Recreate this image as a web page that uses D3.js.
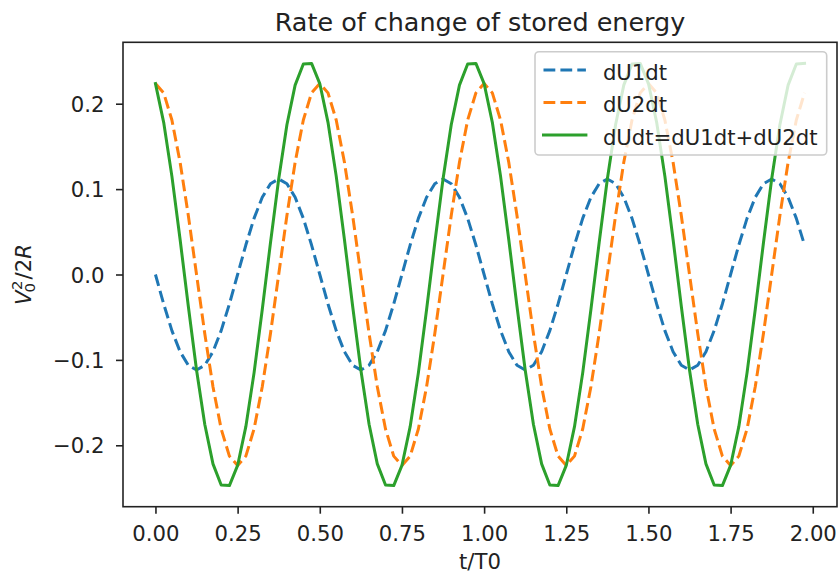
<!DOCTYPE html>
<html>
<head>
<meta charset="utf-8">
<script src="https://cdn.jsdelivr.net/npm/d3@7"></script>
<style>
  html, body { margin: 0; padding: 0; background: #fff; }
  svg { display: block; }
  text { font-family: "DejaVu Sans", sans-serif; fill: #222; }
</style>
</head>
<body>
<svg id="chart" width="838" height="579"></svg>
<script>
// Sample times (t/T0)
const time = [
  0.000, 0.025, 0.050, 0.075, 0.100, 0.125, 0.150, 0.175, 0.200, 0.225,
  0.250, 0.275, 0.300, 0.325, 0.350, 0.375, 0.400, 0.425, 0.450, 0.475,
  0.500, 0.525, 0.550, 0.575, 0.600, 0.625, 0.650, 0.675, 0.700, 0.725,
  0.750, 0.775, 0.800, 0.825, 0.850, 0.875, 0.900, 0.925, 0.950, 0.975,
  1.000, 1.025, 1.050, 1.075, 1.100, 1.125, 1.150, 1.175, 1.200, 1.225,
  1.250, 1.275, 1.300, 1.325, 1.350, 1.375, 1.400, 1.425, 1.450, 1.475,
  1.500, 1.525, 1.550, 1.575, 1.600, 1.625, 1.650, 1.675, 1.700, 1.725,
  1.750, 1.775, 1.800, 1.825, 1.850, 1.875, 1.900, 1.925, 1.950, 1.975
];

// Rate of change of energy stored in element 1
const dU1dt = [
  0.0000, -0.0345, -0.0657, -0.0904, -0.1063, -0.1118, -0.1063, -0.0904, -0.0657, -0.0345,
  0.0000, 0.0345, 0.0657, 0.0904, 0.1063, 0.1118, 0.1063, 0.0904, 0.0657, 0.0345,
  0.0000, -0.0345, -0.0657, -0.0904, -0.1063, -0.1118, -0.1063, -0.0904, -0.0657, -0.0345,
  0.0000, 0.0345, 0.0657, 0.0904, 0.1063, 0.1118, 0.1063, 0.0904, 0.0657, 0.0345,
  0.0000, -0.0345, -0.0657, -0.0904, -0.1063, -0.1118, -0.1063, -0.0904, -0.0657, -0.0345,
  0.0000, 0.0345, 0.0657, 0.0904, 0.1063, 0.1118, 0.1063, 0.0904, 0.0657, 0.0345,
  0.0000, -0.0345, -0.0657, -0.0904, -0.1063, -0.1118, -0.1063, -0.0904, -0.0657, -0.0345,
  0.0000, 0.0345, 0.0657, 0.0904, 0.1063, 0.1118, 0.1063, 0.0904, 0.0657, 0.0345
];

// Rate of change of energy stored in element 2
const dU2dt = [
  0.2236, 0.2127, 0.1809, 0.1314, 0.0691, 0.0000, -0.0691, -0.1314, -0.1809, -0.2127,
  -0.2236, -0.2127, -0.1809, -0.1314, -0.0691, 0.0000, 0.0691, 0.1314, 0.1809, 0.2127,
  0.2236, 0.2127, 0.1809, 0.1314, 0.0691, 0.0000, -0.0691, -0.1314, -0.1809, -0.2127,
  -0.2236, -0.2127, -0.1809, -0.1314, -0.0691, 0.0000, 0.0691, 0.1314, 0.1809, 0.2127,
  0.2236, 0.2127, 0.1809, 0.1314, 0.0691, 0.0000, -0.0691, -0.1314, -0.1809, -0.2127,
  -0.2236, -0.2127, -0.1809, -0.1314, -0.0691, 0.0000, 0.0691, 0.1314, 0.1809, 0.2127,
  0.2236, 0.2127, 0.1809, 0.1314, 0.0691, 0.0000, -0.0691, -0.1314, -0.1809, -0.2127,
  -0.2236, -0.2127, -0.1809, -0.1314, -0.0691, 0.0000, 0.0691, 0.1314, 0.1809, 0.2127
];

// Total rate of change of stored energy
const dUdt = [
  0.2236, 0.1782, 0.1152, 0.0410, -0.0372, -0.1118, -0.1754, -0.2218, -0.2466, -0.2472,
  -0.2236, -0.1782, -0.1152, -0.0410, 0.0372, 0.1118, 0.1754, 0.2218, 0.2466, 0.2472,
  0.2236, 0.1782, 0.1152, 0.0410, -0.0372, -0.1118, -0.1754, -0.2218, -0.2466, -0.2472,
  -0.2236, -0.1782, -0.1152, -0.0410, 0.0372, 0.1118, 0.1754, 0.2218, 0.2466, 0.2472,
  0.2236, 0.1782, 0.1152, 0.0410, -0.0372, -0.1118, -0.1754, -0.2218, -0.2466, -0.2472,
  -0.2236, -0.1782, -0.1152, -0.0410, 0.0372, 0.1118, 0.1754, 0.2218, 0.2466, 0.2472,
  0.2236, 0.1782, 0.1152, 0.0410, -0.0372, -0.1118, -0.1754, -0.2218, -0.2466, -0.2472,
  -0.2236, -0.1782, -0.1152, -0.0410, 0.0372, 0.1118, 0.1754, 0.2218, 0.2466, 0.2472
];

const seriesNames = ["dU1dt", "dU2dt", "dUdt=dU1dt+dU2dt"];
const xTickValues = [0, 0.25, 0.5, 0.75, 1.0, 1.25, 1.5, 1.75, 2.0];
const yTickValues = [-0.2, -0.1, 0.0, 0.1, 0.2];
const titleText = "Rate of change of stored energy";
const xLabelText = "t/T0";

// ---- layout & style ----
const FS = 21.2;          // base font size
const plot = { left: 123, right: 837, top: 42.3, bottom: 506.7 };
const LW = 3.0;
const series = [
  { name: seriesNames[0], values: dU1dt, color: "#1f77b4", dash: "11.8,5.1" },
  { name: seriesNames[1], values: dU2dt, color: "#ff7f0e", dash: "11.8,5.1" },
  { name: seriesNames[2], values: dUdt,  color: "#2ca02c", dash: null }
];

const svg = d3.select("#chart");
svg.append("rect").attr("width", 838).attr("height", 579).attr("fill", "#fff");

// autoscale with 5% padding on each side
function padded(ext) {
  const m = (ext[1] - ext[0]) * 0.05;
  return [ext[0] - m, ext[1] + m];
}
const xDom = padded(d3.extent(time));
const yDom = padded(d3.extent([].concat(dU1dt, dU2dt, dUdt)));

const x = d3.scaleLinear().domain(xDom).range([plot.left, plot.right]);
const y = d3.scaleLinear().domain(yDom).range([plot.bottom, plot.top]);

svg.append("clipPath").attr("id", "clip")
  .append("rect")
  .attr("x", plot.left).attr("y", plot.top)
  .attr("width", plot.right - plot.left).attr("height", plot.bottom - plot.top);

// ---- lines ----
const line = d3.line()
  .x((d, i) => x(time[i]))
  .y(d => y(d));

const linesG = svg.append("g").attr("clip-path", "url(#clip)");
series.forEach(s => {
  linesG.append("path")
    .datum(s.values)
    .attr("d", line)
    .attr("fill", "none")
    .attr("stroke", s.color)
    .attr("stroke-width", LW)
    .attr("stroke-linejoin", "round")
    .attr("stroke-linecap", s.dash ? "butt" : "square")
    .attr("stroke-dasharray", s.dash);
});

// ---- axes ----
const tickLen = 7;
const xAxis = d3.axisBottom(x)
  .tickValues(xTickValues)
  .tickFormat(d3.format(".2f"))
  .tickSizeInner(tickLen).tickSizeOuter(0).tickPadding(11);
const yAxis = d3.axisLeft(y)
  .tickValues(yTickValues)
  .tickFormat(d3.format(".1f"))
  .tickSizeInner(tickLen).tickSizeOuter(0).tickPadding(11.5);

const gx = svg.append("g").attr("transform", `translate(0,${plot.bottom})`).call(xAxis);
const gy = svg.append("g").attr("transform", `translate(${plot.left},0)`).call(yAxis);
[gx, gy].forEach(g => {
  g.select(".domain").remove();
  g.selectAll(".tick line").attr("stroke", "#222").attr("stroke-width", 1.6);
  g.selectAll(".tick text")
    .attr("font-size", FS)
    .attr("font-family", "DejaVu Sans")
    .attr("fill", "#262626");
});
gx.selectAll(".tick text").attr("dy", "0.76em");
gy.selectAll(".tick text").attr("dy", "0.36em");

// frame
svg.append("rect")
  .attr("x", plot.left).attr("y", plot.top)
  .attr("width", plot.right - plot.left).attr("height", plot.bottom - plot.top)
  .attr("fill", "none").attr("stroke", "#222").attr("stroke-width", 1.6);

// ---- title & labels ----
const cx = (plot.left + plot.right) / 2;
svg.append("text")
  .attr("x", cx).attr("y", 30.5)
  .attr("text-anchor", "middle")
  .attr("font-size", FS * 1.2)
  .text(titleText);

svg.append("text")
  .attr("x", cx).attr("y", 569)
  .attr("text-anchor", "middle")
  .attr("font-size", FS)
  .text(xLabelText);

// y label: V_0^2 / 2R, rotated
const yl = svg.append("g");
const ylInner = yl.append("g");
function piece(str, opts) {
  return ylInner.append("text")
    .attr("font-size", opts.size || FS)
    .attr("font-style", opts.italic ? "italic" : "normal")
    .text(str);
}
const tV = piece("V", { italic: true });
const wV = tV.node().getComputedTextLength();
const sSize = FS * 0.7;
const tSup = piece("2", { size: sSize }).attr("x", wV + 0.5).attr("y", -8.5);
const tSub = piece("0", { size: sSize }).attr("x", wV - 2).attr("y", 4.5);
const wScript = Math.max(tSup.node().getComputedTextLength() + 0.5, tSub.node().getComputedTextLength() - 2);
const tSl = piece("/2", {}).attr("x", wV + wScript + 1);
const wSl = tSl.node().getComputedTextLength();
const tR = piece("R", { italic: true }).attr("x", wV + wScript + 1 + wSl);
const totalW = wV + wScript + 1 + wSl + tR.node().getComputedTextLength();
ylInner.attr("transform", `translate(${-totalW / 2},0)`);
yl.attr("transform", `translate(30.5,${(plot.top + plot.bottom) / 2}) rotate(-90)`);

// ---- legend ----
const lg = { left: 535, top: 51.7, right: 826.7, bottom: 155 };
const legend = svg.append("g");
legend.append("rect")
  .attr("x", lg.left).attr("y", lg.top)
  .attr("width", lg.right - lg.left).attr("height", lg.bottom - lg.top)
  .attr("rx", 4).attr("ry", 4)
  .attr("fill", "#fff").attr("fill-opacity", 0.8)
  .attr("stroke", "#cccccc").attr("stroke-width", 1.6);

const rowY = [70, 102.5, 135];
series.forEach((s, i) => {
  legend.append("line")
    .attr("x1", lg.left + 8.5).attr("x2", lg.left + 8.5 + 42.4)
    .attr("y1", rowY[i]).attr("y2", rowY[i])
    .attr("stroke", s.color)
    .attr("stroke-width", LW)
    .attr("stroke-linecap", s.dash ? "butt" : "square")
    .attr("stroke-dasharray", s.dash);
  legend.append("text")
    .attr("x", lg.left + 8.5 + 42.4 + 17)
    .attr("y", rowY[i] + 9.5)
    .attr("font-size", FS)
    .text(s.name);
});
</script>
</body>
</html>
